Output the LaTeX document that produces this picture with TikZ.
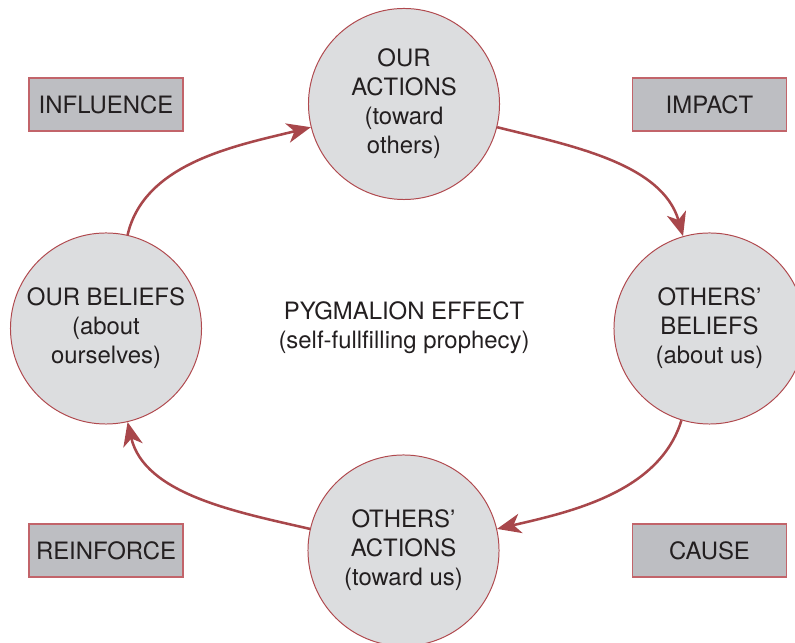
\documentclass[tikz,border=0pt]{standalone}
\usepackage{fontspec}
\setmainfont{TeX Gyre Heros}
\usepackage{tikz}
\usetikzlibrary{arrows.meta}
\usepackage{color}

\definecolor{rondfond}{HTML}{DCDDDF}
\definecolor{rondbord}{HTML}{B0494E}
\definecolor{boitefond}{HTML}{BDBEC2}
\definecolor{boitebord}{HTML}{C2646A}
\definecolor{flechecol}{HTML}{A8474B}
\definecolor{texte}{HTML}{231F20}

\tikzset{
	rond/.style={circle, draw=rondbord, fill=rondfond, line width=0.7pt, minimum size=4.775cm, inner sep=0pt, align=center, text=texte, font=\fontsize{17}{20.6}\selectfont},
	boite/.style={rectangle, draw=boitebord, fill=boitefond, line width=0.8pt, minimum width=3.85cm, minimum height=1.325cm, inner sep=0pt, text=texte, font=\fontsize{17}{20.6}\selectfont},
	fleche/.style={draw=flechecol, line width=1.8pt, -{Stealth[length=17pt,width=14pt,inset=5pt]}}
}

\begin{document}
\begin{tikzpicture}[x=0.025cm,y=0.025cm]
					
					\clip (0,0) rectangle (795,643);
					
					%\draw[step=50,black,thin] (0,0) grid (795,643);
					
					\node [rond] (ouract) at (404,539) {OUR\\ACTIONS\\(toward\\others)};
					\node [rond] (othbel) at (709.5,314.5) {OTHERS’\\BELIEFS\\(about us)};
					\node [rond] (othact) at (403.5,92.5) {OTHERS’\\ACTIONS\\(toward us)};
					\node [rond] (ourbel) at (106,314.5) {OUR BELIEFS\\(about\\ourselves)};
					
					\node [align=center, text=texte, font=\fontsize{17}{20.6}\selectfont] (effet) at (404,315) {PYGMALION EFFECT\\(self-fullfilling prophecy)};
					
					\node [boite] (influence) at (106,538.5) {INFLUENCE};
					\node [boite] (impact) at (709.5,538.5) {IMPACT};
					\node [boite] (reinforce) at (106,92.5) {REINFORCE};
					\node [boite] (cause) at (709.5,92.5) {CAUSE};
					
					% the cycle
					\draw [fleche] (ourbel.77) to[out=77,in=194,looseness=0.9] (ouract.194);
					\draw [fleche] (ouract.-14) to[out=-14,in=106,looseness=0.9] (othbel.106);
					\draw [fleche] (othbel.253) to[out=253,in=13,looseness=0.9] (othact.13);
					\draw [fleche] (othact.167) to[out=167,in=283,looseness=0.9] (ourbel.283);
					
				\end{tikzpicture}
\end{document}
